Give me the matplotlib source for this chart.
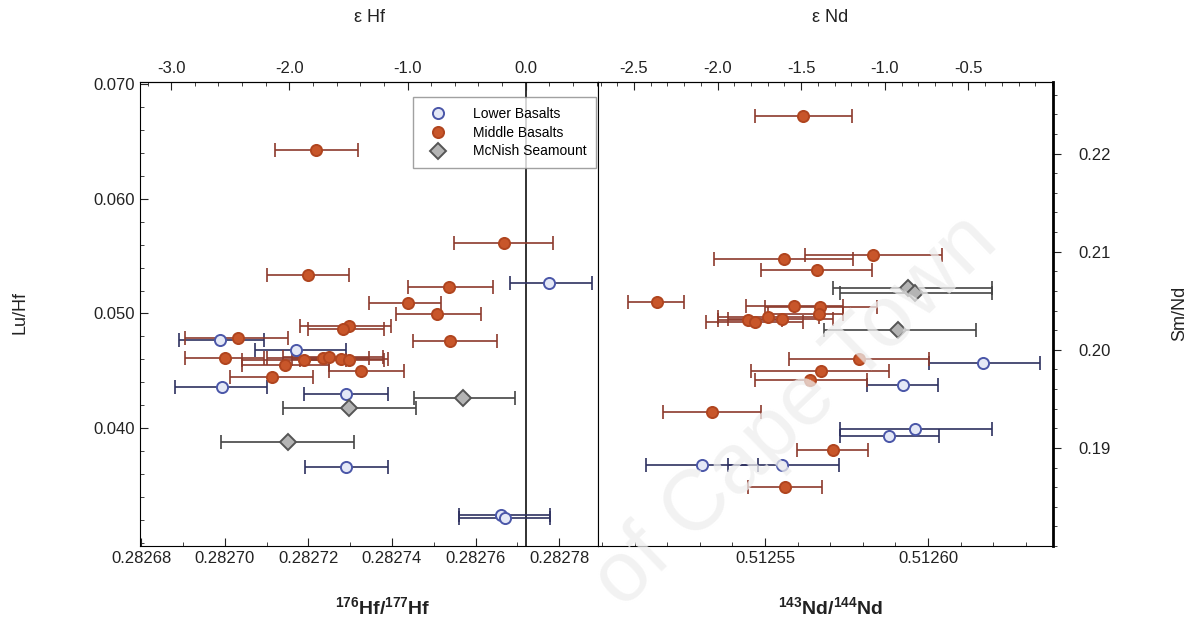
import matplotlib
matplotlib.use("Agg")
import matplotlib.pyplot as plt
from matplotlib.lines import Line2D
from matplotlib.ticker import MultipleLocator, FormatStrFormatter, FixedLocator
import numpy as np

plt.rcParams['font.family'] = ['Liberation Sans', 'DejaVu Sans']
plt.rcParams['mathtext.default'] = 'regular'

# Hf panel: 176Hf/177Hf vs Lu/Hf, error bars given as (low end, high end)
hf_lower_x = [0.2827776, 0.2826988, 0.2827171, 0.2826993, 0.2827290, 0.2827290, 0.2827660, 0.2827671]
hf_lower_y = [0.05266, 0.04769, 0.04681, 0.04358, 0.04297, 0.03659, 0.03240, 0.03214]
hf_lower_lo = [0.2827683, 0.2826890, 0.2827071, 0.2826881, 0.2827190, 0.2827193, 0.2827560, 0.2827560]
hf_lower_hi = [0.2827879, 0.2827093, 0.2827290, 0.2827100, 0.2827390, 0.2827390, 0.2827779, 0.2827779]

hf_middle_x = [0.2827219, 0.2827667, 0.2827200, 0.2827536, 0.2827438, 0.2827507, 0.2827298, 0.2827283,
               0.2827540, 0.2827031, 0.2827000, 0.2827190, 0.2827236, 0.2827250, 0.2827279, 0.2827298,
               0.2827143, 0.2827326, 0.2827112]
hf_middle_y = [0.06428, 0.05616, 0.05336, 0.05231, 0.05092, 0.04996, 0.04891, 0.04865,
               0.04760, 0.04786, 0.04611, 0.04594, 0.04611, 0.04620, 0.04603, 0.04594,
               0.04550, 0.04498, 0.04445]
hf_middle_lo = [0.2827119, 0.2827548, 0.2827100, 0.2827438, 0.2827345, 0.2827410, 0.2827179, 0.2827200,
                0.2827450, 0.2826905, 0.2826905, 0.2827040, 0.2827100, 0.2827140, 0.2827160, 0.2827179,
                0.2827040, 0.2827250, 0.2827012]
hf_middle_hi = [0.2827319, 0.2827786, 0.2827298, 0.2827641, 0.2827517, 0.2827612, 0.2827398, 0.2827381,
                0.2827652, 0.2827152, 0.2827093, 0.2827290, 0.2827345, 0.2827379, 0.2827390, 0.2827381,
                0.2827250, 0.2827429, 0.2827212]

hf_mcnish_x = [0.2827569, 0.2827298, 0.2827152]
hf_mcnish_y = [0.04262, 0.04175, 0.03878]
hf_mcnish_lo = [0.2827452, 0.2827140, 0.2826990]
hf_mcnish_hi = [0.2827695, 0.2827457, 0.2827310]

# Nd panel: 143Nd/144Nd vs Sm/Nd
nd_lower_x = [0.5126169, 0.5125923, 0.5125960, 0.5125880, 0.5125307, 0.5125552]
nd_lower_y = [0.19866, 0.19640, 0.19188, 0.19126, 0.18828, 0.18828]
nd_lower_lo = [0.5126003, 0.5125813, 0.5125730, 0.5125730, 0.5125135, 0.5125387]
nd_lower_hi = [0.5126343, 0.5126031, 0.5126196, 0.5126034, 0.5125479, 0.5125727]

nd_middle_x = [0.5125617, 0.5125831, 0.5125558, 0.5125659, 0.5125169, 0.5125589, 0.5125669, 0.5125448,
               0.5125469, 0.5125509, 0.5125552, 0.5125666, 0.5125788, 0.5125672, 0.5125638, 0.5125337,
               0.5125709, 0.5125561]
nd_middle_y = [0.22384, 0.20966, 0.20925, 0.20812, 0.20483, 0.20442, 0.20432, 0.20308,
               0.20288, 0.20339, 0.20319, 0.20360, 0.19908, 0.19784, 0.19692, 0.19363,
               0.18983, 0.18602]
nd_middle_lo = [0.5125469, 0.5125623, 0.5125344, 0.5125488, 0.5125080, 0.5125442, 0.5125500, 0.5125356,
                0.5125319, 0.5125356, 0.5125387, 0.5125509, 0.5125574, 0.5125457, 0.5125469, 0.5125187,
                0.5125598, 0.5125448]
nd_middle_hi = [0.5125767, 0.5126043, 0.5125770, 0.5125828, 0.5125252, 0.5125739, 0.5125843, 0.5125552,
                0.5125617, 0.5125666, 0.5125709, 0.5125739, 0.5126003, 0.5125880, 0.5125813, 0.5125488,
                0.5125816, 0.5125675]

nd_mcnish_x = [0.5125939, 0.5125960, 0.5125908]
nd_mcnish_y = [0.20627, 0.20576, 0.20206]
nd_mcnish_lo = [0.5125709, 0.5125730, 0.5125681]
nd_mcnish_hi = [0.5126196, 0.5126196, 0.5126147]

CHUR_HF = 0.282772
CHUR_ND = 0.512638

groups = {
    'Lower Basalts': dict(marker='o', mfc='#e4e8f6', mec='#4a56a8', ecolor='#2e3160'),
    'Middle Basalts': dict(marker='o', mfc='#c8562a', mec='#b0451f', ecolor='#8c3a2c'),
    'McNish Seamount': dict(marker='D', mfc='#b4b4b4', mec='#555555', ecolor='#444444'),
}


def draw(ax, x, y, lo, hi, name, ms):
    x = np.array(x)
    st = groups[name]
    xerr = [x - np.array(lo), np.array(hi) - x]
    ax.errorbar(x, y, xerr=xerr, fmt='none', ecolor=st['ecolor'], elinewidth=1.2,
                capsize=5, capthick=1.2, zorder=2)
    ax.plot(x, y, linestyle='none', marker=st['marker'], ms=ms, mfc=st['mfc'],
            mec=st['mec'], mew=1.4, zorder=3)


W, H = 1192, 625
fig = plt.figure(figsize=(W / 100, H / 100), dpi=100)
y0, y1 = 546, 82
ax1 = fig.add_axes([140 / W, 1 - y0 / H, (598 - 140) / W, (y0 - y1) / H])
ax2 = fig.add_axes([598 / W, 1 - y0 / H, (1053 - 598) / W, (y0 - y1) / H])

# left panel
draw(ax1, hf_lower_x, hf_lower_y, hf_lower_lo, hf_lower_hi, 'Lower Basalts', 8)
draw(ax1, hf_middle_x, hf_middle_y, hf_middle_lo, hf_middle_hi, 'Middle Basalts', 8)
draw(ax1, hf_mcnish_x, hf_mcnish_y, hf_mcnish_lo, hf_mcnish_hi, 'McNish Seamount', 8)
ax1.axvline(CHUR_HF, color='#222222', lw=1.3, zorder=1)
ax1.set_xlim(0.2826797, 0.2827893)
ax1.set_ylim(0.0297, 0.0702)
ax1.xaxis.set_major_locator(FixedLocator([0.28268, 0.28270, 0.28272, 0.28274, 0.28276, 0.28278]))
ax1.xaxis.set_major_formatter(FormatStrFormatter('%.5f'))
ax1.xaxis.set_minor_locator(MultipleLocator(0.00001))
ax1.yaxis.set_major_locator(FixedLocator([0.040, 0.050, 0.060, 0.070]))
ax1.yaxis.set_major_formatter(FormatStrFormatter('%.3f'))
ax1.yaxis.set_minor_locator(MultipleLocator(0.002))
ax1.spines['right'].set_visible(False)
ax1.tick_params(which='both', direction='in', labelsize=12, colors='#222222')
ax1.tick_params(which='major', length=6)
ax1.tick_params(which='minor', length=3)

top1 = ax1.secondary_xaxis('top', functions=(lambda v: (v / CHUR_HF - 1) * 1e4,
                                              lambda e: (e / 1e4 + 1) * CHUR_HF))
top1.xaxis.set_major_locator(FixedLocator([-3.0, -2.0, -1.0, 0.0]))
top1.xaxis.set_major_formatter(FormatStrFormatter('%.1f'))
top1.xaxis.set_minor_locator(MultipleLocator(0.2))
top1.tick_params(which='both', direction='in', labelsize=12, colors='#222222', pad=4)
top1.tick_params(which='major', length=6)
top1.tick_params(which='minor', length=3)

handles = [Line2D([], [], linestyle='none', marker=st['marker'], ms=8, mfc=st['mfc'],
                  mec=st['mec'], mew=1.4) for st in groups.values()]
leg = ax1.legend(handles, list(groups.keys()), loc='upper right',
                 bbox_to_anchor=(596 / W, 1 - 97 / H), bbox_transform=fig.transFigure,
                 fontsize=10, frameon=True, fancybox=False, borderpad=0.7,
                 handletextpad=1.4, labelspacing=0.35, borderaxespad=0, handlelength=2.2)
leg.get_frame().set_edgecolor('#8a8a8a')
leg.get_frame().set_linewidth(1.0)

# right panel
draw(ax2, nd_lower_x, nd_lower_y, nd_lower_lo, nd_lower_hi, 'Lower Basalts', 8)
draw(ax2, nd_middle_x, nd_middle_y, nd_middle_lo, nd_middle_hi, 'Middle Basalts', 8)
draw(ax2, nd_mcnish_x, nd_mcnish_y, nd_mcnish_lo, nd_mcnish_hi, 'McNish Seamount', 8)
ax2.set_xlim(0.5124988, 0.5126383)
ax2.set_ylim(0.1800, 0.2273)
ax2.xaxis.set_major_locator(FixedLocator([0.51255, 0.51260]))
ax2.xaxis.set_major_formatter(FormatStrFormatter('%.5f'))
ax2.xaxis.set_minor_locator(MultipleLocator(0.00001))
ax2.yaxis.tick_right()
ax2.yaxis.set_major_locator(FixedLocator([0.19, 0.20, 0.21, 0.22]))
ax2.yaxis.set_major_formatter(FormatStrFormatter('%.2f'))
ax2.yaxis.set_minor_locator(MultipleLocator(0.002))
ax2.spines['right'].set_linewidth(2.0)
ax2.tick_params(which='both', direction='in', labelsize=12, colors='#222222')
ax2.tick_params(axis='y', which='both', direction='out', pad=12)
ax2.tick_params(which='major', length=6)
ax2.tick_params(which='minor', length=3)

# ticks on the divider, pointing into the right panel
div = ax1.secondary_yaxis('right')
div.yaxis.set_major_locator(FixedLocator([0.040, 0.050, 0.060, 0.070]))
div.yaxis.set_minor_locator(MultipleLocator(0.002))
div.tick_params(which='both', direction='out', labelright=False, colors='#222222')
div.tick_params(which='major', length=5)
div.tick_params(which='minor', length=3)

top2 = ax2.secondary_xaxis('top', functions=(lambda v: (v / CHUR_ND - 1) * 1e4,
                                              lambda e: (e / 1e4 + 1) * CHUR_ND))
top2.xaxis.set_major_locator(FixedLocator([-2.5, -2.0, -1.5, -1.0, -0.5]))
top2.xaxis.set_major_formatter(FormatStrFormatter('%.1f'))
top2.xaxis.set_minor_locator(MultipleLocator(0.1))
top2.tick_params(which='both', direction='in', labelsize=12, colors='#222222', pad=4)
top2.tick_params(which='major', length=6)
top2.tick_params(which='minor', length=3)

# axis titles
fig.text(20 / W, 1 - 313 / H, 'Lu/Hf', rotation=90, ha='center', va='center', fontsize=13, color='#222222')
fig.text(1180 / W, 1 - 313 / H, 'Sm/Nd', rotation=90, ha='center', va='center', fontsize=13, color='#222222')
fig.text(370 / W, 1 - 18 / H, 'ε Hf', ha='center', va='center', fontsize=13, color='#222222')
fig.text(830 / W, 1 - 18 / H, 'ε Nd', ha='center', va='center', fontsize=13, color='#222222')
fig.text(383 / W, 1 - 607 / H, r'$^{176}$Hf/$^{177}$Hf', ha='center', va='center', fontsize=14,
         fontweight='bold', color='#222222')
fig.text(830 / W, 1 - 607 / H, r'$^{143}$Nd/$^{144}$Nd', ha='center', va='center', fontsize=14,
         fontweight='bold', color='#222222')

# faint watermark of the source scan, kept inside the canvas
fig.text(1000 / W, 1 - 245 / H, 'of Cape Town', rotation=44, rotation_mode='anchor',
         ha='right', va='baseline', fontsize=62, color='#eeeeee', alpha=0.75, zorder=10)

fig.savefig('out.png', dpi=100)
